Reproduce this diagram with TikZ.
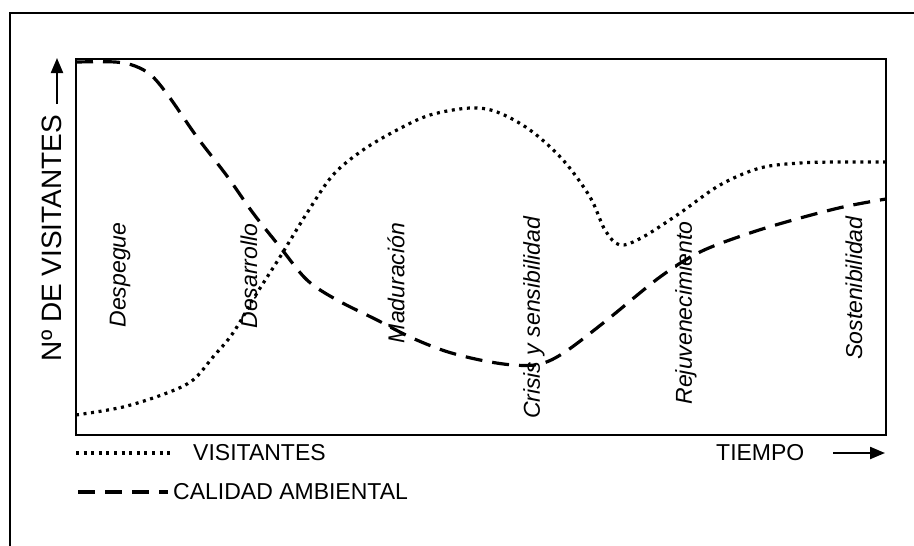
\documentclass[tikz,border=0pt]{standalone}
\usepackage{fontspec}
\setmainfont{Liberation Sans}
\usetikzlibrary{arrows.meta}
\tikzset{
  frameline/.style={line width=1.4pt},
  boxline/.style={line width=2pt},
  visline/.style={line width=3.2pt, dash pattern=on 3pt off 4.6pt},
  calline/.style={line width=3.2pt, dash pattern=on 17pt off 10pt},
  phase/.style={rotate=90, font=\fontsize{23}{23}\selectfont\itshape, inner sep=0pt},
  legend/.style={font=\fontsize{23}{23}\selectfont, inner sep=0pt, anchor=west},
  axisarrow/.style={line width=2.2pt, -{Triangle[length=15pt,width=12pt]}}
}
\begin{document}
\begin{tikzpicture}[x=1pt,y=-1pt]
\useasboundingbox (0,0) rectangle (914,546);
\fill[white] (0,0) rectangle (914,546);
% outer frame
\draw[frameline] (10,546) -- (10,13) -- (914,13);
% plot box
\draw[boxline] (76,59) rectangle (886,435);
% calidad ambiental curve
\draw[calline] plot[smooth, tension=0.55] coordinates {
 (76,62) (115,62) (135,66) (152,76) (170,98) (197,137) (227,176) (253,213)
 (280,247) (307,280) (337,300) (377,320) (410,337) (445,351) (480,360)
 (513,365) (540,364) (565,352) (607,320) (660,277) (700,252) (747,234)
 (793,220) (843,207) (886,199)};
% visitantes curve
\draw[visline] plot[smooth, tension=0.55] coordinates {
 (76,415) (123,407) (167,393) (193,380) (213,357) (233,333) (257,293)
 (280,257) (307,213) (333,175) (363,150) (397,130) (430,115) (470,108)
 (497,112) (530,130) (563,160) (590,197) (605,230) (620,245) (643,237)
 (680,213) (720,185) (760,168) (800,163) (840,162) (886,162)};
% phase labels
\node[phase] (p1) at (120,275) {Despegue};
\node[phase] (p2) at (249,276) {Desarrollo};
\node[phase] (p3) at (396,283) {Maduración};
\node[phase] (p4) at (534,318) {Crisis y sensibilidad};
\node[phase] (p5) at (686,313) {Rejuvenecimiento};
\node[phase] (p6) at (854,288) {Sostenibilidad};
% y axis label
\node[rotate=90, font=\fontsize{28}{28}\selectfont, inner sep=0pt] (ylab) at (52,238) {Nº DE VISITANTES};
\coordinate (yarrs) at (57,104);
\coordinate (yarre) at (57,58);
\draw[axisarrow] (yarrs) -- (yarre);
% x axis label
\node[legend] (xlab) at (716,453) {TIEMPO};
\coordinate (xarrs) at (833,453);
\coordinate (xarre) at (885,453);
\draw[axisarrow] (xarrs) -- (xarre);
% legend
\coordinate (lv1) at (76,453);
\coordinate (lv2) at (170,453);
\draw[visline] (lv1) -- (lv2);
\node[legend] (lvt) at (193,453) {VISITANTES};
\coordinate (lc1) at (78,492);
\coordinate (lc2) at (168,492);
\draw[calline] (lc1) -- (lc2);
\node[legend] (lct) at (173,492) {CALIDAD AMBIENTAL};
\end{tikzpicture}
\end{document}
